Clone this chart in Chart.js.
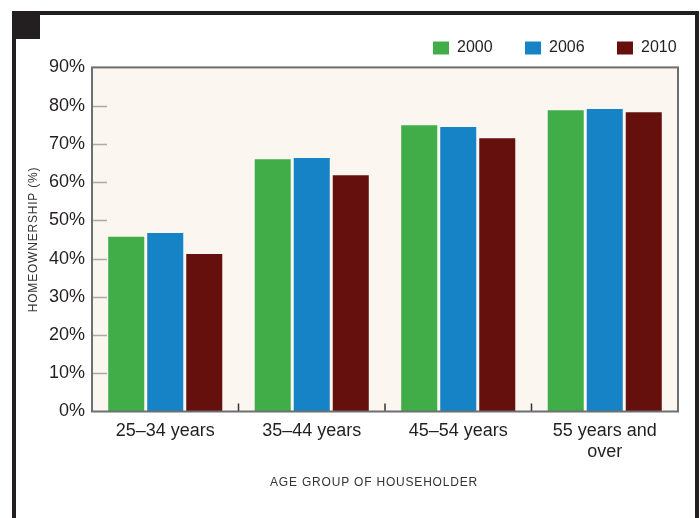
<!DOCTYPE html>
<html>
<head>
<meta charset="utf-8">
<script src="https://cdn.jsdelivr.net/npm/chart.js@4"></script>
<style>
  html, body { margin: 0; padding: 0; background: #fff; }
  #wrap { position: relative; width: 700px; height: 518px; overflow: hidden; }
  #frame { position: absolute; left: 12px; top: 11px; width: 679px; height: 530px;
           border-left: 4px solid #231f20; border-top: 4px solid #231f20; border-right: 4px solid #231f20; }
  #mark { position: absolute; left: 16px; top: 15px; width: 24px; height: 24px; background: #231f20; }
  canvas { position: absolute; left: 0; top: 0; }
</style>
</head>
<body>
<div id="wrap">
  <div id="frame"></div>
  <div id="mark"></div>
  <canvas id="homeChart" width="700" height="518"></canvas>
</div>
<script>
// age groups on the x axis
var ageGroups = ['25–34 years', '35–44 years', '45–54 years', ['55 years and', 'over']];
var years = ['2000', '2006', '2010'];
// homeownership rate, percent
var share2000 = [45.7, 66.0, 74.9, 78.8];
var share2006 = [46.7, 66.3, 74.4, 79.1];
var share2010 = [41.2, 61.8, 71.5, 78.3];
var yTickValues = [0, 10, 20, 30, 40, 50, 60, 70, 80, 90];

var yTitle = 'HOMEOWNERSHIP (%)';
var xTitle = 'AGE GROUP OF HOUSEHOLDER';
var FONT = "'Liberation Sans', Arial, Helvetica, sans-serif";

var framePlugin = {
    id: 'frame',
    afterLayout: function(chart) {
        // push legend to the right edge like the original
        var lg = chart.legend;
        var pad = lg.options.labels.padding;
        var w = lg.width;
        lg.left = 433 - pad;
        lg.right = lg.left + w;
        lg.top -= 1.5;
        lg.bottom -= 1.5;
    },
    beforeDraw: function(chart) {
        var a = chart.chartArea, ctx = chart.ctx;
        ctx.save();
        ctx.fillStyle = '#fbf6ef';
        ctx.fillRect(a.left, a.top, a.right - a.left, a.bottom - a.top);
        ctx.restore();
    },
    afterDatasetsDraw: function(chart) {
        var a = chart.chartArea, ctx = chart.ctx;
        var y = chart.scales.y, x = chart.scales.x;
        ctx.save();
        // short inner ticks on the left
        ctx.strokeStyle = '#a9a9a9';
        ctx.lineWidth = 1.5;
        yTickValues.forEach(function(v) {
            if (v === 0 || v === 90) return;
            var py = Math.round(y.getPixelForValue(v)) + 0.5;
            ctx.beginPath();
            ctx.moveTo(a.left, py);
            ctx.lineTo(a.left + 15, py);
            ctx.stroke();
        });
        // small ticks between groups
        ctx.strokeStyle = '#333';
        for (var i = 1; i < ageGroups.length; i++) {
            var px = (x.getPixelForValue(i - 1) + x.getPixelForValue(i)) / 2;
            ctx.beginPath();
            ctx.moveTo(px, a.bottom);
            ctx.lineTo(px, a.bottom - 8);
            ctx.stroke();
        }
        // plot border
        ctx.strokeStyle = '#6d6e71';
        ctx.lineWidth = 2;
        ctx.strokeRect(a.left, a.top, a.right - a.left, a.bottom - a.top);
        ctx.restore();
    },
    afterDraw: function(chart) {
        var ctx = chart.ctx, a = chart.chartArea;
        ctx.save();
        ctx.fillStyle = '#333';
        ctx.font = '12px ' + FONT;
        if ('letterSpacing' in ctx) ctx.letterSpacing = '0.8px';
        ctx.textAlign = 'center';
        ctx.textBaseline = 'middle';
        ctx.fillText(xTitle, 374, 483);
        ctx.translate(34, (a.top + a.bottom) / 2);
        ctx.rotate(-Math.PI / 2);
        ctx.fillText(yTitle, 0, 0);
        ctx.restore();
    }
};

document.addEventListener('DOMContentLoaded', function() {
    var ctx = document.getElementById('homeChart').getContext('2d');
    var colors = ['#41ad49', '#1583c6', '#65100c'];
    var series = [share2000, share2006, share2010];

    new Chart(ctx, {
        type: 'bar',
        data: {
            labels: ageGroups,
            datasets: years.map(function(yr, i) {
                return {
                    label: yr,
                    data: series[i],
                    backgroundColor: colors[i],
                    borderWidth: 0,
                    categoryPercentage: 0.799,
                    barPercentage: 0.923
                };
            })
        },
        options: {
            responsive: false,
            animation: false,
            layout: { padding: { top: 9, right: 22, left: 0, bottom: 0 } },
            scales: {
                x: {
                    grid: { display: false, drawTicks: false },
                    border: { display: false },
                    ticks: {
                        color: '#231f20',
                        padding: 9,
                        maxRotation: 0,
                        autoSkip: false,
                        font: { family: FONT, size: 18, lineHeight: 1.17 }
                    },
                    afterFit: function(s) { s.height = 106.5; }
                },
                y: {
                    min: 0,
                    max: 90,
                    grid: { display: false, drawTicks: false },
                    border: { display: false },
                    ticks: {
                        stepSize: 10,
                        color: '#231f20',
                        padding: 7,
                        font: { family: FONT, size: 18 },
                        callback: function(value) { return value + '%'; }
                    },
                    afterFit: function(s) { s.width = 92; }
                }
            },
            plugins: {
                legend: {
                    position: 'top',
                    align: 'start',
                    labels: {
                        boxWidth: 16,
                        boxHeight: 13,
                        padding: 32.4,
                        color: '#231f20',
                        font: { family: FONT, size: 16 }
                    }
                },
                tooltip: { enabled: false }
            }
        },
        plugins: [framePlugin]
    });
});
</script>
</body>
</html>
